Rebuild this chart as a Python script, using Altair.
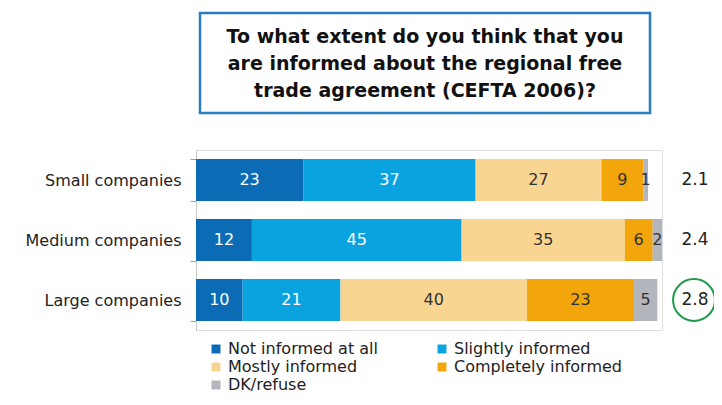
import altair as alt
import pandas as pd

categories = ["Small companies", "Medium companies", "Large companies"]
responses = ["Not informed at all", "Slightly informed", "Mostly informed",
             "Completely informed", "DK/refuse"]
not_informed = [23, 12, 10]
slightly = [37, 45, 21]
mostly = [27, 35, 40]
completely = [9, 6, 23]
dk = [1, 2, 5]
mean_scores = ["2.1", "2.4", "2.8"]
highlighted = ["Large companies"]
title_lines = ["To what extent do you think that you",
               "are informed about the regional free",
               "trade agreement (CEFTA 2006)?"]

colors = ["#0b6cb5", "#0aa3e0", "#f9d592", "#f2a60b", "#b4b6bd"]
label_colors = ["#ffffff", "#ffffff", "#333333", "#333333", "#333333"]

# legend is filled column by column: reorder so it reads row by row as in the reference
legend_order = [0, 2, 4, 1, 3]
legend_domain = [responses[i] for i in legend_order]
legend_range = [colors[i] for i in legend_order]

series = [not_informed, slightly, mostly, completely, dk]
rows = []
for ci, cat in enumerate(categories):
    for ri, resp in enumerate(responses):
        rows.append({"category": cat, "response": resp, "value": series[ri][ci],
                     "order": ri, "tcolor": label_colors[ri]})
df = pd.DataFrame(rows)
scores_df = pd.DataFrame({"category": categories, "score": mean_scores})
hl_df = pd.DataFrame({"category": highlighted})
one = pd.DataFrame({"t": [0]})

FONT = "DejaVu Sans"

y_enc = alt.Y("category:N", sort=categories,
              scale=alt.Scale(domain=categories, paddingInner=0.3, paddingOuter=0.15),
              axis=alt.Axis(title=None, tickBand="extent", domainColor="#c8c8c8",
                            tickColor="#a0a0a0", tickSize=6, labelFontSize=16,
                            labelFont=FONT, labelColor="#222222", labelPadding=9))
x_scale = alt.Scale(domain=[0, 100])

bars = alt.Chart(df).mark_bar().encode(
    y=y_enc,
    x=alt.X("value:Q", stack="zero", scale=x_scale, axis=None),
    color=alt.Color("response:N",
                    scale=alt.Scale(domain=legend_domain, range=legend_range),
                    legend=alt.Legend(title=None, orient="none", legendX=12, legendY=191,
                                      columns=2, symbolType="square", symbolSize=80,
                                      symbolStrokeWidth=0, labelFontSize=16, labelFont=FONT,
                                      labelColor="#222222", columnPadding=56, labelLimit=400,
                                      rowPadding=2, padding=0, labelOffset=4)),
    order=alt.Order("order:Q"),
)

labels = alt.Chart(df).transform_stack(
    stack="value", groupby=["category"], sort=[alt.SortField("order")], as_=["x0", "x1"]
).transform_calculate(mid="(datum.x0 + datum.x1) / 2").mark_text(
    fontSize=16, font=FONT
).encode(
    y=alt.Y("category:N", sort=categories),
    x=alt.X("mid:Q", scale=x_scale),
    text="value:Q",
    color=alt.Color("tcolor:N", scale=None),
)

scores = alt.Chart(scores_df).mark_text(fontSize=17, font=FONT, color="#222222").encode(
    y=alt.Y("category:N", sort=categories),
    x=alt.value(499),
    text="score:N",
)

circle = alt.Chart(hl_df).mark_point(shape="circle", size=1750, filled=False,
                                     stroke="#1e9b4e", strokeWidth=2, opacity=1).encode(
    y=alt.Y("category:N", sort=categories),
    x=alt.value(498),
)

box = alt.Chart(one).mark_rect(fill="white", stroke="#2a7cc0", strokeWidth=2.5).encode(
    x=alt.value(4), x2=alt.value(454), y=alt.value(-137), y2=alt.value(-37)
)
title = alt.Chart(one).mark_text(fontSize=19, fontWeight="bold", font=FONT,
                                 lineHeight=27, align="center", baseline="middle",
                                 color="#111111").encode(
    x=alt.value(229), y=alt.value(-113), text=alt.value(title_lines)
)

chart = alt.layer(box, title, bars, labels, scores, circle).properties(
    width=466, height=180,
    autosize=alt.AutoSizeParams(type="none"),
    padding={"left": 188, "top": 142, "right": 52, "bottom": 67},
).configure_view(strokeWidth=0).configure(background="white")

chart.save("out.html", embed_options={"renderer": "svg", "actions": False})
